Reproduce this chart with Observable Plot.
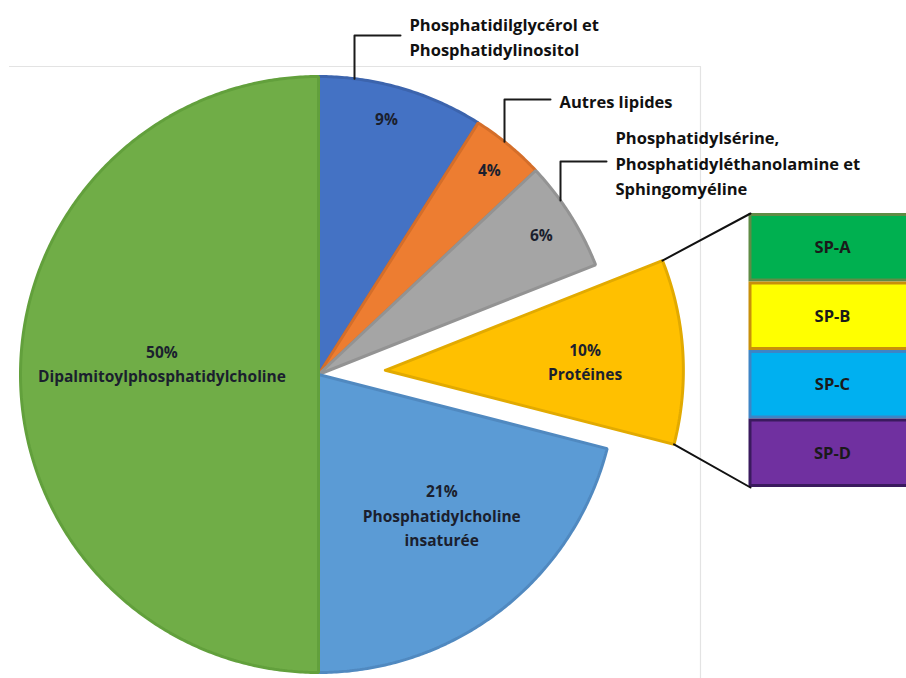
<!DOCTYPE html>
<html><head><meta charset="utf-8">
<script src="https://cdn.jsdelivr.net/npm/d3@7"></script>
<script src="https://cdn.jsdelivr.net/npm/@observablehq/plot@0.6"></script>
<style>body{margin:0;background:#fff;overflow:hidden}</style>
</head><body><div id="chart"></div>
<script>
// ---- data ----
const categories = ["Phosphatidilglycérol et Phosphatidylinositol", "Autres lipides", "Phosphatidylsérine, Phosphatidyléthanolamine et Sphingomyéline", "Protéines", "Phosphatidylcholine insaturée", "Dipalmitoylphosphatidylcholine"];
const values = [9, 4, 6, 10, 21, 50];
const insideNames = ["", "", "", "Protéines", "Phosphatidylcholine\ninsaturée", "Dipalmitoylphosphatidylcholine"];
const outsideNames = ["Phosphatidilglycérol et\nPhosphatidylinositol", "Autres lipides", "Phosphatidylsérine,\nPhosphatidyléthanolamine et\nSphingomyéline", "", "", ""];
const sliceColors = ["#4472C4", "#ED7D31", "#A5A5A5", "#FFC000", "#5B9BD5", "#70AD47"];
const sliceBorders = ["#3c64ad", "#d46e2a", "#939393", "#e2aa00", "#5089c0", "#62a03c"];
const proteins = ["SP-A", "SP-B", "SP-C", "SP-D"];
const proteinColors = ["#00B050", "#FFFF00", "#00B0F0", "#7030A0"];
const proteinBorders = ["#5f8c45", "#c8900a", "#3d85c6", "#3a1a5e"];

// ---- layout ----
const W = 906, H = 678;
const cx = 318, cy = 374, R = 298;
const explode = [0, 0, 0, 67, 0, 0];
const labelR = [266, 268, 264, 200, 186, 157];
const labelDA = [-1.4, 0, 0, 0.6, -3.7, 4.4]; // degrees
const leaderX = [354, 504, 560];
const leaderY = [35, 99, 161];
const leaderLen = 46;
const boxX1 = 750, boxX2 = 920, boxTop = 213, boxH = 68.5;
const FONT = "Open Sans";

const total = d3.sum(values);
const cum = d3.cumsum(values);
const slices = values.map((v, i) => {
  const a0 = (i === 0 ? 0 : cum[i - 1]) / total * 2 * Math.PI;
  const a1 = cum[i] / total * 2 * Math.PI;
  const mid = (a0 + a1) / 2;
  const ox = cx + explode[i] * Math.sin(mid), oy = cy - explode[i] * Math.cos(mid);
  const pts = [{x: ox, y: oy}];
  const n = Math.max(4, Math.ceil((a1 - a0) / (Math.PI / 360)));
  for (let k = 0; k <= n; k++) {
    const a = a0 + (a1 - a0) * k / n;
    pts.push({x: ox + R * Math.sin(a), y: oy - R * Math.cos(a)});
  }
  pts.push({x: ox, y: oy});
  const la = mid + labelDA[i] * Math.PI / 180;
  const lx = ox + labelR[i] * Math.sin(la), ly = oy - labelR[i] * Math.cos(la);
  const text = `${v}%` + (insideNames[i] ? "\n" + insideNames[i] : "");
  return {i, a0, a1, mid, ox, oy, pts, lx, ly, text};
});

const sliceMarks = slices.map(s => Plot.line(s.pts, {
  x: "x", y: "y", fill: sliceColors[s.i], stroke: sliceBorders[s.i],
  strokeWidth: 3, strokeLinejoin: "miter", curve: "linear"
}));

// leaders for outside labels
const leaders = [];
const outside = [];
outsideNames.forEach((name, i) => {
  if (!name) return;
  const x = leaderX[i];
  const yArc = cy - Math.sqrt(R * R - (x - cx) ** 2);
  leaders.push([{x, y: yArc}, {x, y: leaderY[i]}, {x: x + leaderLen, y: leaderY[i]}]);
  outside.push({x: x + leaderLen + 9, y: leaderY[i], text: name});
});
const leaderMarks = leaders.map(L => Plot.line(L, {x: "x", y: "y", stroke: "#1a1a1a", strokeWidth: 2}));

// protein boxes
const boxes = proteins.map((p, k) => ({
  name: p, x1: boxX1, x2: boxX2, y1: boxTop + k * boxH + 1.5, y2: boxTop + (k + 1) * boxH - 1.5,
  fill: proteinColors[k], stroke: proteinBorders[k]
}));

// connectors from exploded slice corners to box stack
const ys = slices[3];
const cTop = [{x: ys.ox + R * Math.sin(ys.a0), y: ys.oy - R * Math.cos(ys.a0)}, {x: boxX1, y: boxTop}];
const cBot = [{x: ys.ox + R * Math.sin(ys.a1), y: ys.oy - R * Math.cos(ys.a1)}, {x: boxX1, y: boxTop + proteins.length * boxH}];

const frame = [{x: 9, y: 66}, {x: 700, y: 66}, {x: 700, y: H}];

const chart = Plot.plot({
  width: W, height: H, margin: 0,
  x: {domain: [0, W], axis: null},
  y: {domain: [H, 0], axis: null},
  style: {fontFamily: FONT, background: "#fff"},
  marks: [
    Plot.line(frame, {x: "x", y: "y", stroke: "#e3e3e3", strokeWidth: 1.2}),
    ...sliceMarks,
    ...leaderMarks,
    Plot.text(slices, {x: "lx", y: "ly", text: "text", fontSize: 15.5, fontWeight: 700, fill: "#1b1f2e", lineHeight: 1.55, lineAnchor: "middle"}),
    Plot.text(outside, {x: "x", y: "y", text: "text", fontSize: 16.5, fontWeight: 700, fill: "#111", lineHeight: 1.52, lineAnchor: "middle", textAnchor: "start"}),
    Plot.rect(boxes, {x1: "x1", x2: "x2", y1: "y1", y2: "y2", fill: "fill", stroke: "stroke", strokeWidth: 3}),
    Plot.text(boxes, {x: d => 832, y: d => (d.y1 + d.y2) / 2, text: "name", fontSize: 16.5, fontWeight: 700, fill: "#1a1a1a"}),
    Plot.line(cTop, {x: "x", y: "y", stroke: "#111", strokeWidth: 2}),
    Plot.line(cBot, {x: "x", y: "y", stroke: "#111", strokeWidth: 2})
  ]
});
document.getElementById("chart").appendChild(chart);
</script>
</body></html>
